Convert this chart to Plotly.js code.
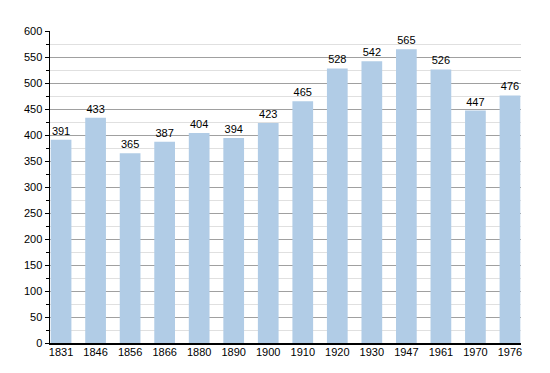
<!DOCTYPE html>
<html>
<head>
<meta charset="utf-8">
<script src="https://cdn.plot.ly/plotly-3.0.1.min.js"></script>
<style>html,body{margin:0;padding:0;background:#fff;}#chart{width:550px;height:373px;}</style>
</head>
<body>
<div id="chart"></div>
<script>
const years = ["1831","1846","1856","1866","1880","1890","1900","1910","1920","1930","1947","1961","1970","1976"];
const population = [391,433,365,387,404,394,423,465,528,542,565,526,447,476];
const yTicks = [0,50,100,150,200,250,300,350,400,450,500,550,600];

const trace = {
  type: 'bar',
  x: years,
  y: population,
  text: population.map(String),
  textposition: 'outside',
  cliponaxis: false,
  textfont: {family: 'Liberation Sans, Arial, sans-serif', size: 11, color: '#000'},
  marker: {color: '#b1cce6', line: {width: 0}},
  width: 0.6,
  hoverinfo: 'x+y'
};

const layout = {
  width: 550, height: 373,
  margin: {l: 50, r: 29, t: 31, b: 30},
  paper_bgcolor: '#fff', plot_bgcolor: '#fff',
  showlegend: false,
  font: {family: 'Liberation Sans, Arial, sans-serif', size: 11, color: '#000'},
  bargap: 0.4,
  xaxis: {
    type: 'category',
    range: [-0.32, 13.32],
    showline: true, linecolor: '#000', linewidth: 1.5,
    ticks: '', showgrid: false,
    tickfont: {size: 11, color: '#000'},
    ticklabelstandoff: -2
  },
  yaxis: {
    range: [0, 600],
    tickvals: yTicks,
    showline: true, linecolor: '#000', linewidth: 1.5,
    ticks: 'outside', ticklen: 4, tickcolor: '#000',
    showgrid: true, gridcolor: '#a0a0a0', gridwidth: 1,
    zeroline: false,
    tickfont: {size: 11, color: '#000'},
    minor: {dtick: 25, tick0: 0, showgrid: true, gridcolor: '#e0e0e0', ticks: 'outside', ticklen: 3, tickcolor: '#000'}
  }
};

Plotly.newPlot('chart', [trace], layout, {staticPlot: true, displayModeBar: false});
</script>
</body>
</html>
